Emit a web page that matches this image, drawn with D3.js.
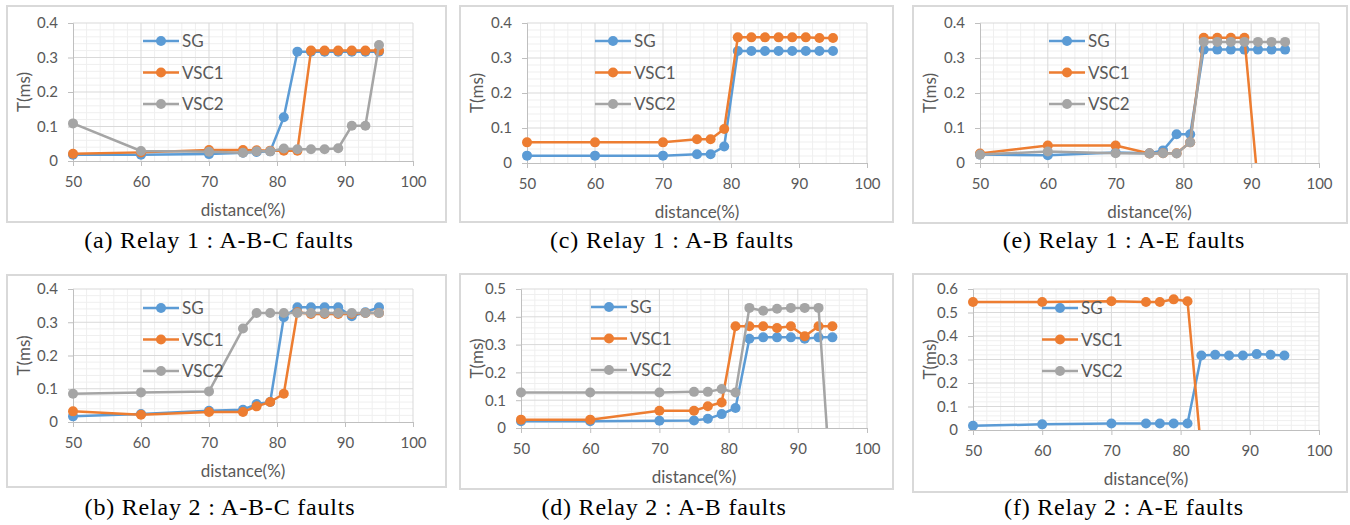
<!DOCTYPE html>
<html lang="en">
<head>
<meta charset="UTF-8">
<title>Relay operating time vs fault distance</title>
<script src="https://d3js.org/d3.v7.min.js"></script>
<style>
  body { margin: 0; background: #fff; }
  svg { display: block; }
  .tick-label { font-family: Lato, "Open Sans", sans-serif; font-size: 15px; fill: #595959; }
  .axis-title { font-family: Lato, "Open Sans", sans-serif; font-size: 17px; fill: #595959; text-anchor: middle; }
  .legend-text { font-family: Lato, "Open Sans", sans-serif; font-size: 17px; fill: #595959; }
  .caption { font-family: "Liberation Serif", "Times New Roman", serif; font-size: 24px; letter-spacing: 0.8px; fill: #000; text-anchor: middle; }
</style>
</head>
<body>
<div id="chart"></div>
<script>
// fault distance (% of line) - same for every panel
const distance = [50, 60, 70, 75, 77, 79, 81, 83, 85, 87, 89, 91, 93, 95];

// (a) Relay 1 : A-B-C faults
const r1ABC_SG   = [0.018, 0.018, 0.020, 0.024, 0.026, 0.028, 0.127, 0.317, 0.317, 0.317, 0.317, 0.317, 0.317, 0.317];
const r1ABC_VSC1 = [0.021, 0.025, 0.032, 0.032, 0.031, 0.030, 0.030, 0.030, 0.320, 0.320, 0.320, 0.320, 0.320, 0.320];
const r1ABC_VSC2 = [0.109, 0.029, 0.027, 0.024, 0.028, 0.028, 0.036, 0.034, 0.034, 0.034, 0.037, 0.102, 0.102, 0.336];

// (c) Relay 1 : A-B faults
const r1AB_SG   = [0.021, 0.021, 0.021, 0.025, 0.025, 0.047, 0.320, 0.320, 0.320, 0.320, 0.320, 0.320, 0.320, 0.320];
const r1AB_VSC1 = [0.059, 0.059, 0.059, 0.068, 0.068, 0.097, 0.359, 0.359, 0.359, 0.359, 0.359, 0.359, 0.357, 0.357];
const r1AB_VSC2 = [];

// (e) Relay 1 : A-E faults
const r1AE_SG   = [0.024, 0.022, 0.030, 0.028, 0.036, 0.082, 0.082, 0.324, 0.324, 0.324, 0.324, 0.324, 0.324, 0.324];
const r1AE_VSC1 = [0.027, 0.050, 0.050, 0.027, 0.028, 0.028, 0.059, 0.358, 0.358, 0.358, 0.358, -0.063, -0.063, -0.063];
const r1AE_VSC2 = [0.024, 0.033, 0.028, 0.027, 0.028, 0.027, 0.059, 0.346, 0.346, 0.346, 0.346, 0.346, 0.346, 0.346];

// (b) Relay 2 : A-B-C faults
const r2ABC_SG   = [0.017, 0.024, 0.034, 0.037, 0.054, 0.060, 0.315, 0.345, 0.345, 0.345, 0.345, 0.318, 0.330, 0.345];
const r2ABC_VSC1 = [0.032, 0.022, 0.030, 0.030, 0.047, 0.060, 0.085, 0.330, 0.325, 0.325, 0.325, 0.325, 0.328, 0.328];
const r2ABC_VSC2 = [0.085, 0.089, 0.092, 0.281, 0.328, 0.328, 0.328, 0.328, 0.328, 0.328, 0.328, 0.328, 0.328, 0.328];

// (d) Relay 2 : A-B faults
const r2AB_SG   = [0.024, 0.024, 0.026, 0.027, 0.033, 0.050, 0.072, 0.321, 0.326, 0.326, 0.326, 0.321, 0.326, 0.326];
const r2AB_VSC1 = [0.030, 0.030, 0.062, 0.062, 0.078, 0.092, 0.366, 0.366, 0.366, 0.360, 0.366, 0.330, 0.366, 0.366];
const r2AB_VSC2 = [0.128, 0.128, 0.128, 0.130, 0.130, 0.140, 0.128, 0.432, 0.422, 0.429, 0.432, 0.432, 0.432, -0.29];

// (f) Relay 2 : A-E faults
const r2AE_SG   = [0.018, 0.024, 0.028, 0.028, 0.028, 0.028, 0.028, 0.317, 0.320, 0.317, 0.317, 0.323, 0.320, 0.317];
const r2AE_VSC1 = [0.545, 0.545, 0.548, 0.545, 0.545, 0.556, 0.548, -0.097, -0.097, -0.097, -0.097, -0.097, -0.097, -0.097];
const r2AE_VSC2 = [];

const seriesNames = ["SG", "VSC1", "VSC2"];
const seriesColors = ["#5b9bd5", "#ed7d31", "#a5a5a5"];
const xTicks = [50, 60, 70, 80, 90, 100];

// panel layout: frame box, plot box, y max, legend position
const panels = [
  { id: "a", caption: "(a) Relay 1 : A-B-C faults", series: [r1ABC_SG, r1ABC_VSC1, r1ABC_VSC2], yMax: 0.4,
    frame: [7, 6, 446, 222], plot: [73, 23, 413, 161], legend: [161, 41], capX: 219, capY: 248 },
  { id: "c", caption: "(c) Relay 1 : A-B faults", series: [r1AB_SG, r1AB_VSC1, r1AB_VSC2], yMax: 0.4,
    frame: [460, 6, 893, 222], plot: [527, 23, 867, 163], legend: [613, 41], capX: 672, capY: 248 },
  { id: "e", caption: "(e) Relay 1 : A-E faults", series: [r1AE_SG, r1AE_VSC1, r1AE_VSC2], yMax: 0.4,
    frame: [913, 6, 1347, 223], plot: [980, 23, 1319, 163], legend: [1067, 41], capX: 1124, capY: 248 },
  { id: "b", caption: "(b)  Relay 2 : A-B-C faults", series: [r2ABC_SG, r2ABC_VSC1, r2ABC_VSC2], yMax: 0.4,
    frame: [7, 275, 446, 487], plot: [73, 289, 413, 422], legend: [161, 308], capX: 220, capY: 515 },
  { id: "d", caption: "(d)  Relay 2 : A-B faults", series: [r2AB_SG, r2AB_VSC1, r2AB_VSC2], yMax: 0.5,
    frame: [460, 274, 893, 489], plot: [521, 289, 867, 428], legend: [609, 307], capX: 664, capY: 515 },
  { id: "f", caption: "(f) Relay 2 : A-E faults", series: [r2AE_SG, r2AE_VSC1, r2AE_VSC2], yMax: 0.6,
    frame: [913, 274, 1347, 492], plot: [973, 289, 1319, 430], legend: [1060, 308], capX: 1124, capY: 515 }
];

const svg = d3.select("#chart").append("svg")
  .attr("width", 1350)
  .attr("height", 525);

panels.forEach(p => {
  const g = svg.append("g");
  const [px0, py0, px1, py1] = p.plot;

  // outer chart frame
  g.append("rect")
    .attr("x", p.frame[0]).attr("y", p.frame[1])
    .attr("width", p.frame[2] - p.frame[0]).attr("height", p.frame[3] - p.frame[1])
    .attr("fill", "#fff").attr("stroke", "#d9d9d9").attr("stroke-width", 2);

  const x = d3.scaleLinear().domain([50, 100]).range([px0, px1]);
  const y = d3.scaleLinear().domain([0, p.yMax]).range([py1, py0]);

  // minor grid
  const xMinor = d3.range(52, 100, 2).filter(v => v % 10 !== 0);
  const yMinor = d3.range(0, p.yMax + 1e-9, 0.02).filter(v => Math.abs(v * 10 - Math.round(v * 10)) > 1e-6);
  g.append("g").selectAll("line").data(xMinor).enter().append("line")
    .attr("x1", d => x(d)).attr("x2", d => x(d)).attr("y1", py0).attr("y2", py1)
    .attr("stroke", "#efefef").attr("stroke-width", 1);
  g.append("g").selectAll("line").data(yMinor).enter().append("line")
    .attr("x1", px0).attr("x2", px1).attr("y1", d => y(d)).attr("y2", d => y(d))
    .attr("stroke", "#efefef").attr("stroke-width", 1);

  // major grid
  const yTicks = d3.range(0, p.yMax + 1e-9, 0.1);
  g.append("g").selectAll("line").data(xTicks.slice(1)).enter().append("line")
    .attr("x1", d => x(d)).attr("x2", d => x(d)).attr("y1", py0).attr("y2", py1)
    .attr("stroke", "#d9d9d9").attr("stroke-width", 1);
  g.append("g").selectAll("line").data(yTicks.slice(1)).enter().append("line")
    .attr("x1", px0).attr("x2", px1).attr("y1", d => y(d)).attr("y2", d => y(d))
    .attr("stroke", "#d9d9d9").attr("stroke-width", 1);

  // axes
  const yAxis = g.append("g").attr("transform", `translate(${px0},0)`)
    .call(d3.axisLeft(y).tickValues(yTicks).tickSize(5).tickPadding(10)
      .tickFormat(d => d === 0 ? "0" : d3.format(".1f")(d)));
  const xAxis = g.append("g").attr("transform", `translate(0,${py1})`)
    .call(d3.axisBottom(x).tickValues(xTicks).tickSize(5).tickPadding(10));
  [yAxis, xAxis].forEach(ax => {
    ax.attr("font-size", null).attr("font-family", null);
    ax.select(".domain").attr("stroke", "#bfbfbf");
    ax.selectAll(".tick line").attr("stroke", "#bfbfbf");
    ax.selectAll(".tick text").attr("class", "tick-label").attr("fill", null);
  });

  // axis titles
  g.append("text").attr("class", "axis-title")
    .attr("x", (px0 + px1) / 2).attr("y", py1 + 55)
    .text("distance(%)");
  g.append("text").attr("class", "axis-title")
    .attr("transform", `translate(${p.frame[0] + 23},${(py0 + py1) / 2}) rotate(-90)`)
    .text("T(ms)");

  // series, clipped to the plot area
  const clipId = "clip-" + p.id;
  g.append("clipPath").attr("id", clipId).append("rect")
    .attr("x", px0 - 6).attr("y", py0 - 8).attr("width", px1 - px0 + 12).attr("height", py1 - py0 + 8);
  const plotG = g.append("g").attr("clip-path", `url(#${clipId})`);
  const line = d3.line().x((d, i) => x(distance[i])).y(d => y(d));

  p.series.forEach((vals, si) => {
    if (!vals.length) return;
    plotG.append("path").datum(vals)
      .attr("d", line).attr("fill", "none")
      .attr("stroke", seriesColors[si]).attr("stroke-width", 2.5)
      .attr("stroke-linejoin", "round");
    plotG.append("g").selectAll("circle").data(vals).enter().append("circle")
      .attr("cx", (d, i) => x(distance[i])).attr("cy", d => y(d)).attr("r", 5)
      .attr("fill", seriesColors[si]);
  });

  // legend
  seriesNames.forEach((name, si) => {
    const ly = p.legend[1] + si * 31.5;
    const lx = p.legend[0];
    g.append("line").attr("x1", lx - 18).attr("x2", lx + 18).attr("y1", ly).attr("y2", ly)
      .attr("stroke", seriesColors[si]).attr("stroke-width", 2.5);
    g.append("circle").attr("cx", lx).attr("cy", ly).attr("r", 5).attr("fill", seriesColors[si]);
    g.append("text").attr("class", "legend-text")
      .attr("x", lx + 21).attr("y", ly + 6).text(name);
  });

  // caption under the chart
  svg.append("text").attr("class", "caption")
    .attr("x", p.capX).attr("y", p.capY).text(p.caption);
});
</script>
</body>
</html>
